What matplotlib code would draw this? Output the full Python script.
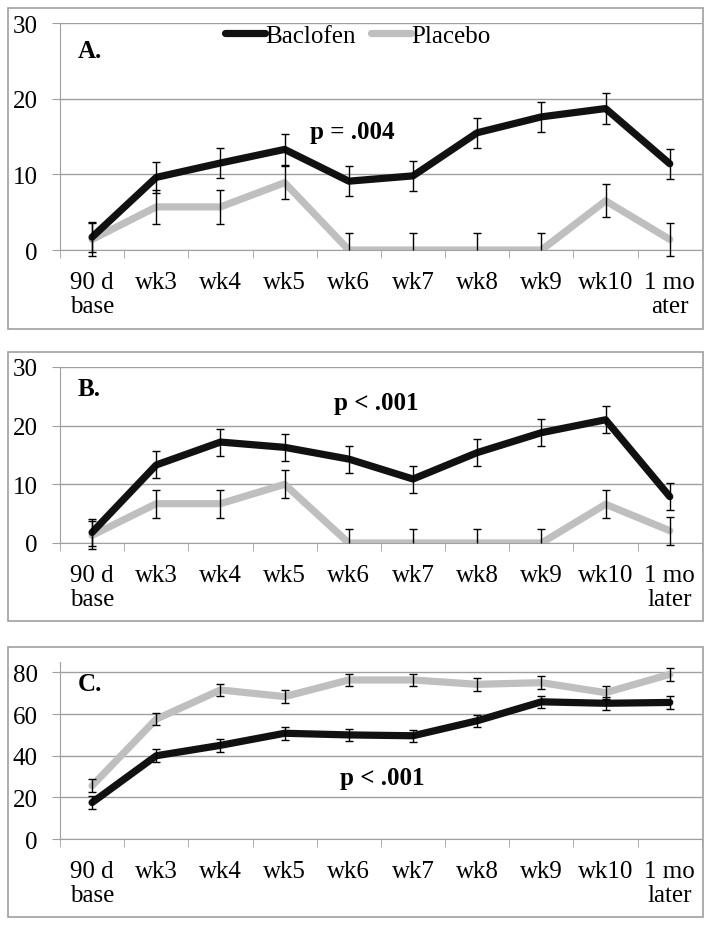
#!/usr/bin/env python3

import matplotlib
matplotlib.use('Agg')
import matplotlib.pyplot as plt
from matplotlib.patches import Rectangle
import numpy as np

plt.rcParams['font.family'] = ['Liberation Serif', 'DejaVu Serif']

categories = ['90 d\nbase', 'wk3', 'wk4', 'wk5', 'wk6', 'wk7', 'wk8', 'wk9', 'wk10', '1 mo\nlater']
categories_a = categories[:-1] + ['1 mo\nater']

# panel A
bac_a = [1.7, 9.6, 11.5, 13.3, 9.1, 9.8, 15.5, 17.6, 18.7, 11.4]
bac_a_err = [2.0, 2.0, 2.0, 2.0, 2.0, 2.0, 2.0, 2.0, 2.0, 2.0]
pla_a = [1.4, 5.7, 5.7, 8.9, 0, 0, 0, 0, 6.5, 1.4]
pla_a_err = [2.2, 2.2, 2.2, 2.2, 2.2, 2.2, 2.2, 2.2, 2.2, 2.2]
pla_a_low = [2.2, 2.2, 2.2, 2.2, 0, 0, 0, 0, 2.2, 2.2]

# panel B
bac_b = [1.8, 13.3, 17.2, 16.3, 14.3, 10.9, 15.4, 18.8, 21.0, 7.9]
bac_b_err = [2.3, 2.3, 2.3, 2.3, 2.3, 2.3, 2.3, 2.3, 2.3, 2.3]
pla_b = [1.3, 6.7, 6.7, 10.0, 0, 0, 0, 0, 6.6, 2.1]
pla_b_err = [2.4, 2.4, 2.4, 2.4, 2.4, 2.4, 2.4, 2.4, 2.4, 2.4]
pla_b_low = [2.4, 2.4, 2.4, 2.4, 0, 0, 0, 0, 2.4, 2.4]

# panel C
bac_c = [17.5, 40.0, 45.0, 50.8, 50.0, 49.6, 56.8, 65.9, 65.2, 65.6]
bac_c_err = [3.3, 3.0, 3.0, 3.0, 3.0, 3.0, 3.0, 3.0, 3.0, 3.0]
pla_c = [25.6, 57.6, 71.6, 68.4, 76.4, 76.4, 74.3, 75.1, 70.3, 79.1]
pla_c_err = [3.0, 3.0, 3.0, 3.0, 3.0, 3.0, 3.0, 3.0, 3.0, 3.0]

BLACK = '#111111'
GRAY = '#bfbfbf'
AXIS = '#a0a0a0'
FS = 18
EB = dict(fmt='none', ecolor='black', elinewidth=1, capsize=3, capthick=1,
          zorder=4)


def draw_panel(ax, labels, bac, bac_err, pla, pla_err, pla_low, ymax, ystep,
               tag, ptext, pxy):
    x = np.arange(len(labels))
    pla = np.array(pla)
    pla_err = np.array(pla_err)
    pla_low = np.array(pla_low)
    ax.plot(x, bac, color=BLACK, lw=5.2, solid_joinstyle='round',
            solid_capstyle='round', zorder=3, label='Baclofen')
    ax.plot(x, pla, color=GRAY, lw=5.2, solid_joinstyle='round',
            solid_capstyle='round', zorder=2, label='Placebo')

    both = pla_low > 0
    up = ~both
    bars = [ax.errorbar(x, bac, yerr=bac_err, **EB),
            ax.errorbar(x[both], pla[both],
                        yerr=[pla_low[both], pla_err[both]], **EB)]
    if up.any():
        eb_up = ax.errorbar(x[up], pla[up], yerr=[pla_low[up], pla_err[up]], **EB)
        eb_up[1][0].set_visible(False)  # no lower cap on the zero points
        bars.append(eb_up)
    # error bars may poke below the axis, as in the original
    for eb in bars:
        for art in eb.get_children():
            art.set_clip_on(False)

    ax.set_xlim(-0.5, len(labels) - 0.5)
    ax.set_ylim(0, ymax)
    ax.set_yticks(np.arange(0, ymax + 0.1, ystep))
    ax.set_xticks(x)
    ax.set_xticklabels(labels, linespacing=1.15)
    ax.set_xticks(np.arange(len(labels) + 1) - 0.5, minor=True)
    ax.tick_params(axis='x', which='major', length=0, pad=15, labelsize=FS)
    ax.tick_params(axis='x', which='minor', length=6, color=AXIS, direction='out')
    ax.tick_params(axis='y', length=6, color=AXIS, pad=10, labelsize=FS)
    ax.grid(axis='y', color=AXIS, lw=1)
    ax.set_axisbelow(True)
    for s in ['top', 'right']:
        ax.spines[s].set_visible(False)
    for s in ['left', 'bottom']:
        ax.spines[s].set_color(AXIS)

    ax.text(0.027, 0.88, tag, transform=ax.transAxes, fontsize=FS,
            fontweight='bold', va='center', ha='left')
    ax.text(pxy[0], pxy[1], ptext, fontsize=FS, fontweight='bold',
            va='center', ha='center')


fig = plt.figure(figsize=(7.14, 9.28), dpi=100)

# panel frames
for bottom, height in [(0.6444, 0.3459), (0.3297, 0.2899), (0.0108, 0.2910)]:
    fig.patches.append(Rectangle((0.0112, bottom), 0.973, height,
                                 transform=fig.transFigure, fill=False,
                                 edgecolor=AXIS, lw=1.2))

ax_a = fig.add_axes([0.084, 0.7295, 0.899, 0.2446])
ax_b = fig.add_axes([0.084, 0.4138, 0.899, 0.1897])
ax_c = fig.add_axes([0.084, 0.0948, 0.899, 0.1907])

draw_panel(ax_a, categories_a, bac_a, bac_a_err, pla_a, pla_a_err, pla_a_low,
           30, 10, 'A.', 'p = .004', (4.05, 15.6))
draw_panel(ax_b, categories, bac_b, bac_b_err, pla_b, pla_b_err, pla_b_low,
           30, 10, 'B.', 'p < .001', (4.42, 24.0))
draw_panel(ax_c, categories, bac_c, bac_c_err, pla_c, pla_c_err, pla_c_err,
           85, 20, 'C.', 'p < .001', (4.52, 29.7))

ax_a.legend(loc='center', bbox_to_anchor=(0.464, 0.943), ncol=2,
            frameon=False, fontsize=FS, handlelength=1.6, handletextpad=0.0,
            columnspacing=0.6, borderpad=0)

plt.savefig('out.png', dpi=100)
